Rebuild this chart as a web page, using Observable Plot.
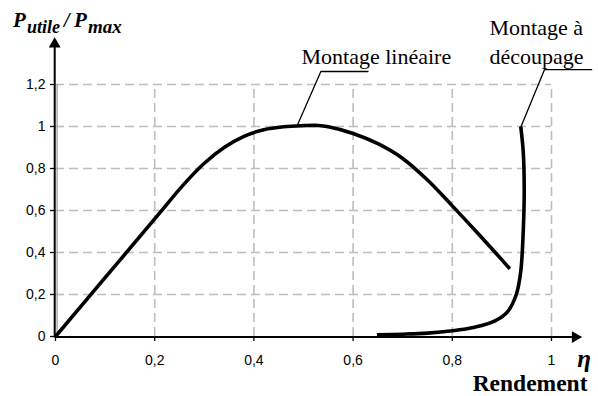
<!DOCTYPE html>
<html><head><meta charset="utf-8">
<script src="https://cdn.jsdelivr.net/npm/d3@7"></script>
<script src="https://cdn.jsdelivr.net/npm/@observablehq/plot@0.6"></script>
<style>body{margin:0;background:#fff;}</style>
</head><body><div id="chart"></div>
<script>
// tick values
const xTicks = [0, 0.2, 0.4, 0.6, 0.8, 1];
const yTicks = [0, 0.2, 0.4, 0.6, 0.8, 1, 1.2];
const xGridTicks = [0.2, 0.4, 0.6, 0.8, 1];
const yGridTicks = [0.2, 0.4, 0.6, 0.8, 1, 1.2];

// "Montage linéaire" curve (rendement η, P_utile/P_max)
const linEta = [0, 0.1,  0.2,  0.26,  0.30,  0.34, 0.38,  0.42,  0.46,  0.50,  0.53,  0.55,  0.60,  0.65,  0.70,  0.75,  0.80,  0.85,  0.90,  0.916];
const linP   = [0, 0.28, 0.56, 0.728, 0.825, 0.90, 0.953, 0.985, 0.999, 1.004, 1.005, 0.999, 0.967, 0.918, 0.848, 0.745, 0.622, 0.495, 0.365, 0.322];

// "Montage à découpage" curve
const decEta = [0.648, 0.70, 0.75, 0.80, 0.845, 0.886, 0.912, 0.929, 0.938, 0.943, 0.945, 0.943, 0.938];
const decP   = [0.008, 0.011, 0.016, 0.027, 0.044, 0.074, 0.12, 0.2, 0.31, 0.5, 0.7, 0.88, 1.0];

// leader lines
const leaderLinEta = [0.488, 0.535, 0.630];
const leaderLinP   = [1.008, 1.262, 1.262];
const leaderDecEta = [0.938, 0.986, 1.081];
const leaderDecP   = [0.997, 1.271, 1.271];

// annotation labels
const labelText = ["Montage linéaire", "Montage à", "découpage"];
const labelEta  = [0.496, 0.875, 0.875];
const labelP    = [1.299, 1.437, 1.299];

// axis extents (arrows)
const yAxisEnd = 1.38, yArrowAt = 1.392;
const xAxisEnd = 1.04, xArrowAt = 1.048;

// axis titles
const xSymbol = ["η"], xSymbolEta = [1.052], xSymbolP = [-0.143];
const xTitle = ["Rendement"], xTitleEta = [1.0726], xTitleP = [-0.258];

const fmt = d => String(d).replace(".", ",");
const lin = linEta.map((e, i) => ({x: e, y: linP[i]}));
const dec = decEta.map((e, i) => ({x: e, y: decP[i]}));
const ll = leaderLinEta.map((e, i) => ({x: e, y: leaderLinP[i]}));
const ld = leaderDecEta.map((e, i) => ({x: e, y: leaderDecP[i]}));
const labels = labelText.map((t, i) => ({t, x: labelEta[i], y: labelP[i]}));

const serif = "'Liberation Serif', 'Times New Roman', serif";
const grid = {stroke: "#bdbdbd", strokeWidth: 1.6, strokeDasharray: "9,5"};

const plot = Plot.plot({
  width: 598, height: 396,
  marginLeft: 55, marginRight: 47, marginTop: 84, marginBottom: 60,
  x: {domain: [0, 1]},
  y: {domain: [0, 1.2]},
  style: {fontFamily: "'Liberation Sans', Arial, sans-serif", fontSize: "14px", color: "#000", background: "#fff", overflow: "visible"},
  marks: [
    Plot.ruleX(xGridTicks, {y1: 0, y2: 1.2, ...grid}),
    Plot.ruleY(yGridTicks, {x1: 0, x2: 1, ...grid}),
    Plot.ruleX([0], {y1: 0, y2: 1.2, stroke: "#9a9a9a", strokeWidth: 1.2, dx: 1.6}),
    Plot.axisY(yTicks, {tickSize: 5, tickPadding: 5, tickFormat: fmt, label: null, strokeWidth: 1.3, fontSize: 14}),
    Plot.axisX(xTicks, {tickSize: 5, tickPadding: 14, tickFormat: fmt, label: null, strokeWidth: 1.3, fontSize: 14}),
    // axes lines with arrows
    Plot.line([{x: 0, y: 0}, {x: 0, y: yAxisEnd}], {x: "x", y: "y", stroke: "#000", strokeWidth: 2, dx: -0.8}),
    Plot.line([{x: 0, y: 0}, {x: xAxisEnd, y: 0}], {x: "x", y: "y", stroke: "#000", strokeWidth: 2, dy: 0.6}),
    Plot.dot([{x: 0, y: yArrowAt}], {x: "x", y: "y", symbol: "triangle", r: 4.4, fill: "#000", stroke: "none", dx: -0.8}),
    Plot.dot([{x: xArrowAt, y: 0}], {x: "x", y: "y", symbol: "triangle", r: 4.4, fill: "#000", stroke: "none", rotate: 90, dy: 0.6}),
    // curves
    Plot.line(lin, {x: "x", y: "y", stroke: "#000", strokeWidth: 3.6, curve: "catmull-rom", strokeLinecap: "butt"}),
    Plot.line(dec, {x: "x", y: "y", stroke: "#000", strokeWidth: 3.6, curve: "catmull-rom", strokeLinecap: "butt"}),
    // leaders
    Plot.line(ll, {x: "x", y: "y", stroke: "#000", strokeWidth: 1.3}),
    Plot.line(ld, {x: "x", y: "y", stroke: "#000", strokeWidth: 1.3}),
    // annotation labels
    Plot.text(labels, {x: "x", y: "y", text: "t", textAnchor: "start", lineAnchor: "bottom", fontFamily: serif, fontSize: 22, fill: "#000"}),
    Plot.text(xSymbol, {x: () => xSymbolEta[0], y: () => xSymbolP[0], text: d => d, textAnchor: "start", lineAnchor: "bottom", fontFamily: serif, fontSize: 25, fontWeight: "bold", fontStyle: "italic", fill: "#000"}),
    Plot.text(xTitle, {x: () => xTitleEta[0], y: () => xTitleP[0], text: d => d, textAnchor: "end", lineAnchor: "bottom", fontFamily: serif, fontSize: 23.5, fontWeight: "bold", fill: "#000"})
  ]
});

// y-axis title with subscripts
const svg = d3.select(plot);
const tStyle = s => `font-family:${serif};font-weight:bold;font-style:italic;font-size:${s}px;fill:#000`;
const title = svg.append("text")
  .attr("text-anchor", "start")
  .attr("style", tStyle(20) + ";text-anchor:start")
  .attr("y", 27);
title.append("tspan").attr("x", 13).attr("style", tStyle(21)).text("P");
title.append("tspan").attr("x", 27).attr("y", 33).attr("style", tStyle(18)).text("utile");
title.append("tspan").attr("x", 64).attr("y", 27).attr("style", tStyle(20)).text("/");
title.append("tspan").attr("x", 74).attr("y", 27).attr("style", tStyle(21)).text("P");
title.append("tspan").attr("x", 88).attr("y", 33).attr("style", tStyle(19)).text("max");

document.getElementById("chart").appendChild(plot);
</script>
</body></html>
